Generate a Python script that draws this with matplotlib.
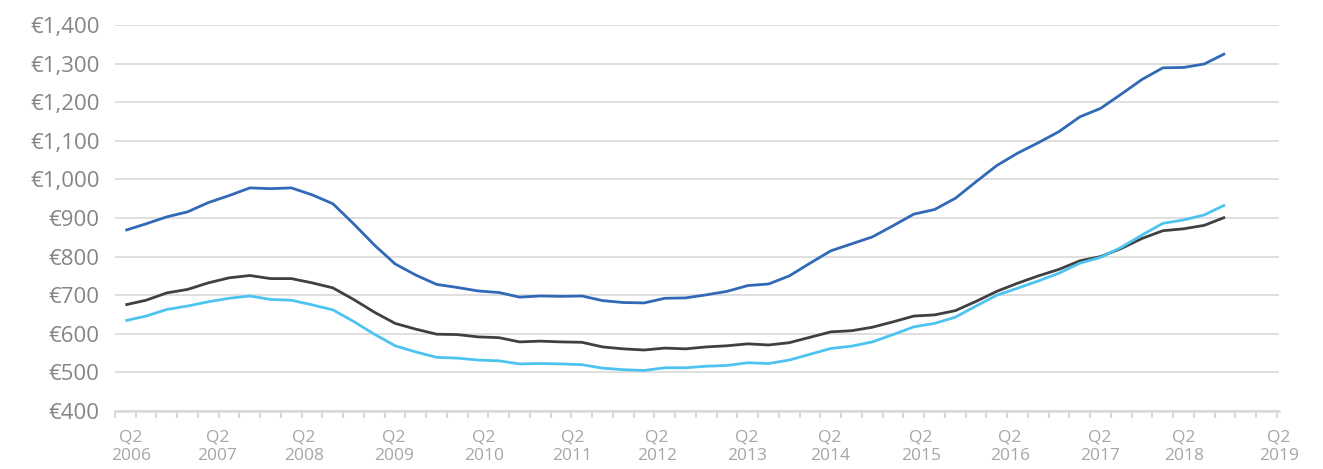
import numpy as np
import matplotlib.pyplot as plt

# quarterly rents, first point is Q2 2006
blue_vals = [868, 885, 903, 916, 940, 958, 978, 976, 978, 960,
             937, 885, 830, 781, 752, 728, 720, 711, 707, 695,
             698, 697, 698, 686, 681, 680, 692, 693, 701, 710,
             725, 729, 750, 783, 815, 833, 851, 880, 910, 922,
             951, 994, 1036, 1068, 1095, 1124, 1162, 1184, 1221, 1259,
             1289, 1290, 1299, 1326]
dark_vals = [675, 687, 706, 715, 732, 745, 751, 743, 743, 732,
             719, 689, 656, 627, 612, 599, 598, 592, 590, 579,
             581, 579, 578, 566, 561, 558, 563, 561, 566, 569,
             574, 571, 577, 591, 605, 608, 617, 631, 646, 649,
             660, 684, 710, 731, 750, 767, 789, 800, 821, 847,
             867, 872, 881, 902]
light_vals = [634, 646, 663, 672, 683, 692, 698, 689, 687, 675,
              662, 632, 599, 569, 553, 539, 537, 532, 530, 522,
              523, 522, 520, 511, 507, 505, 512, 512, 516, 518,
              525, 523, 532, 547, 562, 568, 579, 598, 618, 627,
              643, 672, 700, 718, 737, 757, 783, 798, 824, 856,
              886, 895, 908, 934]

years = ['2006', '2007', '2008', '2009', '2010', '2011', '2012',
         '2013', '2014', '2015', '2016', '2017', '2018', '2019']
yticks = [400, 500, 600, 700, 800, 900, 1000, 1100, 1200, 1300, 1400]

# where the year labels sit along the category axis (as in the original)
label_pos = [0.27, 4.43, 8.6, 12.93, 17.27, 21.55, 25.62, 29.95,
             33.96, 38.34, 42.63, 46.96, 51.02, 55.6]
n_cats = 56

plt.rcParams['font.family'] = ['Open Sans', 'DejaVu Sans']

fig = plt.figure(figsize=(13.23, 4.69), dpi=100)
ax = fig.add_axes([115 / 1323, 58 / 469, 1164 / 1323, 386 / 469])

x = np.arange(len(blue_vals))
ax.plot(x, blue_vals, color='#3169b6', lw=2.0, solid_capstyle='butt')
ax.plot(x, dark_vals, color='#404040', lw=2.0, solid_capstyle='butt')
ax.plot(x, light_vals, color='#4dc4f0', lw=2.0, solid_capstyle='butt')

ax.set_xlim(-0.5, n_cats - 0.5)
ax.set_ylim(400, 1400)

# y axis
ax.set_yticks(yticks)
ax.set_yticklabels(['€{:,}'.format(v) for v in yticks])
ax.tick_params(axis='y', length=0, pad=11, labelsize=16, labelcolor='#858585')
ax.grid(axis='y', color='#d9d9d9', lw=1.2)
ax.set_axisbelow(True)

# x axis: quarter ticks on boundaries, labels placed separately
ax.set_xticks(label_pos)
ax.set_xticklabels(['Q2\n' + y for y in years], linespacing=1.25)
ax.set_xticks(np.arange(-0.5, n_cats, 1), minor=True)
ax.tick_params(axis='x', which='major', length=0, pad=13, labelsize=12.5,
               labelcolor='#a6a6a6')
ax.tick_params(axis='x', which='minor', length=5, width=1.5, color='#d9d9d9')

for side in ['left', 'right', 'top']:
    ax.spines[side].set_visible(False)
ax.spines['bottom'].set_color('#d9d9d9')
ax.spines['bottom'].set_linewidth(1.8)

fig.savefig('out.png', dpi=100)
